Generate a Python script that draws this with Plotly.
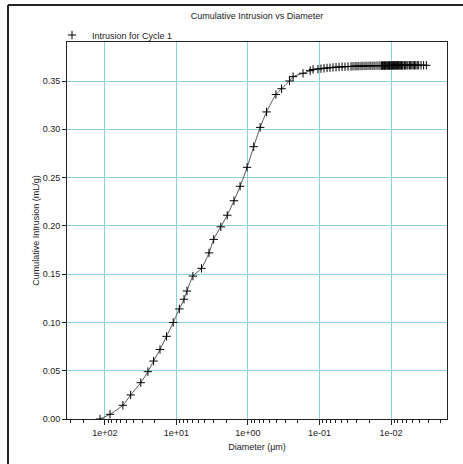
import plotly.graph_objects as go

diameter_um = [
    117.5, 85.1, 56.2, 43.7, 31.6, 25.1, 20.9, 17.0, 13.8, 11.1, 9.12, 7.85, 7.13, 5.89, 4.47,
    3.51, 3.02, 2.40, 1.95, 1.57, 1.29, 1.03, 0.832, 0.676, 0.550, 0.407, 0.339, 0.263, 0.234,
    0.170, 0.135, 0.123, 0.105,
    0.0953, 0.0865, 0.0785, 0.0713, 0.0647, 0.0587, 0.0533, 0.0484, 0.0440, 0.0399, 0.0362,
    0.0340, 0.0318, 0.0299, 0.0281, 0.0263, 0.0247, 0.0231, 0.0217, 0.0203, 0.0191, 0.0179,
    0.0168, 0.0157, 0.0147, 0.0138,
    0.0135, 0.0132, 0.0129, 0.0126, 0.0123, 0.0120, 0.0117, 0.0114, 0.0111, 0.0108, 0.0105,
    0.0103, 0.0100, 0.0098, 0.0095, 0.0093, 0.0091, 0.0089, 0.0087, 0.0085, 0.0083, 0.0081,
    0.0079, 0.0077, 0.0075, 0.0073, 0.0071, 0.0070, 0.0068,
    0.0065, 0.0063, 0.0060, 0.0058, 0.0055, 0.0053, 0.0051, 0.0049, 0.0047, 0.0045, 0.0043,
    0.0041, 0.0038, 0.0035, 0.0032,
]
intrusion_ml_g = [
    0.000, 0.0049, 0.0142, 0.0249, 0.0376, 0.049, 0.060, 0.072, 0.0856, 0.100, 0.114, 0.124,
    0.1325, 0.148, 0.156, 0.172, 0.186, 0.199, 0.211, 0.226, 0.241, 0.2606, 0.282, 0.302,
    0.318, 0.336, 0.342, 0.350, 0.3545, 0.358, 0.3607, 0.362, 0.3624,
    0.3628, 0.3632, 0.3635, 0.3638, 0.3641, 0.3643, 0.3645, 0.3647, 0.3648, 0.3650, 0.3651,
    0.3652, 0.3653, 0.3654, 0.3654, 0.3655, 0.3656, 0.3656, 0.3657, 0.3657, 0.3658, 0.3658,
    0.3658, 0.3659, 0.3659, 0.3659,
    0.3660, 0.3660, 0.3660, 0.3660, 0.3660, 0.3660, 0.3660, 0.3661, 0.3661, 0.3661, 0.3661,
    0.3661, 0.3661, 0.3661, 0.3661, 0.3661, 0.3662, 0.3662, 0.3662, 0.3662, 0.3662, 0.3662,
    0.3662, 0.3662, 0.3662, 0.3662, 0.3662, 0.3662, 0.3662,
    0.3662, 0.3662, 0.3663, 0.3663, 0.3663, 0.3663, 0.3663, 0.3663, 0.3663, 0.3663, 0.3663,
    0.3663, 0.3663, 0.3663, 0.3663,
]
x_tick_vals = [100, 10, 1, 0.1, 0.01]
x_tick_text = ["1e+02", "1e+01", "1e+00", "1e-01", "1e-02"]
y_tick_vals = [0.00, 0.05, 0.10, 0.15, 0.20, 0.25, 0.30, 0.35]
y_tick_text = ["0.00", "0.05", "0.10", "0.15", "0.20", "0.25", "0.30", "0.35"]

minor_vals = [m * 10.0 ** e for e in range(-3, 3) for m in range(2, 10)]

FONT = "Liberation Sans, Arial, sans-serif"
GRID = "#86d3da"

fig = go.Figure()
fig.add_trace(go.Scatter(
    x=diameter_um, y=intrusion_ml_g, mode="lines",
    line=dict(color="#555555", width=1, shape="spline", smoothing=0.6),
    showlegend=False, hoverinfo="skip",
))
fig.add_trace(go.Scatter(
    x=diameter_um, y=intrusion_ml_g, mode="markers", name="Intrusion for Cycle 1",
    marker=dict(symbol="cross-thin", size=6, line=dict(color="#000000", width=1)),
))

L, R, T, B = 67, 16, 42, 45
W, H = 463, 464
pw, ph = W - L - R, H - T - B

fig.update_layout(
    width=W, height=H,
    margin=dict(l=L, r=R, t=T, b=B),
    paper_bgcolor="white", plot_bgcolor="white",
    font=dict(family=FONT, size=9, color="#222222"),
    title=dict(text="Cumulative Intrusion vs Diameter", x=(L + pw / 2) / W, xanchor="center",
               y=1 - 16 / H, yanchor="middle", font=dict(size=9, color="#222222")),
    legend=dict(x=(52 - L) / pw, xanchor="left", y=(H - B - 35) / ph, yanchor="middle",
                bgcolor="rgba(0,0,0,0)", font=dict(size=9), borderwidth=0),
    showlegend=True,
    xaxis=dict(
        type="log", range=[2.531, -2.783],
        tickmode="array", tickvals=x_tick_vals, ticktext=x_tick_text,
        ticks="outside", ticklen=5, tickcolor="#222", tickwidth=1,
        showgrid=True, gridcolor=GRID, gridwidth=1,
        showline=True, linecolor="#222", linewidth=1, mirror=True,
        zeroline=False,
        minor=dict(tickmode="array", tickvals=minor_vals, ticks="outside", ticklen=3,
                   tickcolor="#222", showgrid=False),
        title=dict(text="Diameter (μm)", font=dict(size=9), standoff=6),
    ),
    yaxis=dict(
        range=[0, 0.3904],
        tickmode="array", tickvals=y_tick_vals, ticktext=y_tick_text,
        ticks="outside", ticklen=4, tickcolor="#222", tickwidth=1,
        showgrid=True, gridcolor=GRID, gridwidth=1,
        showline=True, linecolor="#222", linewidth=1, mirror=True,
        zeroline=False,
        title=dict(text="Cumulative Intrusion (mL/g)", font=dict(size=9), standoff=1),
    ),
    shapes=[
        dict(type="line", xref="paper", yref="paper",
             x0=(8 - L) / pw, x1=(8 - L) / pw, y0=(H - 5 - B) / ph, y1=-0.3,
             line=dict(color="#222", width=2)),
        dict(type="line", xref="paper", yref="paper",
             x0=(8 - L) / pw, x1=1.2, y0=(H - 5 - B) / ph, y1=(H - 5 - B) / ph,
             line=dict(color="#222", width=2)),
    ],
)

fig.write_html("out.html")
